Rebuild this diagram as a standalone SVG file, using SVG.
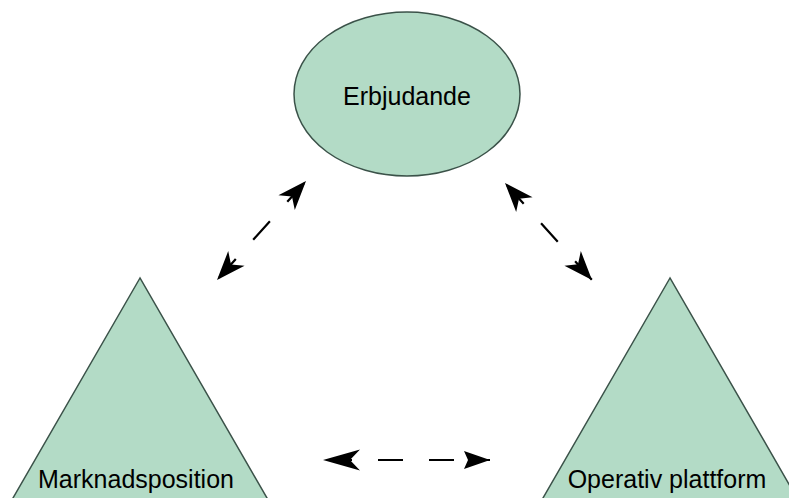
<svg xmlns="http://www.w3.org/2000/svg" width="789" height="498" viewBox="0 0 789 498">
  <style>
    .shape { fill: #b3dbc6; stroke: #3b5249; stroke-width: 1.5; }
    .label { font-family: "Liberation Sans", Arial, sans-serif; font-size: 25px; fill: #000; text-anchor: middle; }
    .link { fill: none; stroke: #000; stroke-width: 2.2; stroke-dasharray: 25 26; }
  </style>
  <defs>
    <!-- notched arrowhead, tip at the line end -->
    <marker id="ah" viewBox="-32 -13 34 26" refX="0" refY="0" markerWidth="34" markerHeight="26" markerUnits="userSpaceOnUse" orient="auto-start-reverse">
      <path d="M0,0 L-29,-11 L-21,0 L-29,11 Z" fill="#000"/>
    </marker>
    <marker id="ah-sm" viewBox="-30 -12 32 24" refX="0" refY="0" markerWidth="32" markerHeight="24" markerUnits="userSpaceOnUse" orient="auto-start-reverse">
      <path d="M0,0 L-26,-9 L-22,0 L-26,9 Z" fill="#000"/>
    </marker>
    <marker id="ah-lg" viewBox="-40 -12 42 24" refX="0" refY="0" markerWidth="42" markerHeight="24" markerUnits="userSpaceOnUse" orient="auto-start-reverse">
      <path d="M0,0 L-37,-10.5 L-27,0 L-37,10.5 Z" fill="#000"/>
    </marker>
  </defs>

  <g id="erbjudande">
    <ellipse class="shape" cx="407" cy="94" rx="113" ry="82"/>
    <text class="label" x="407" y="105">Erbjudande</text>
  </g>

  <g id="marknadsposition">
    <polygon class="shape" points="140,278 0.3,520 279.7,520"/>
    <text class="label" x="136" y="488">Marknadsposition</text>
  </g>

  <g id="operativ-plattform">
    <polygon class="shape" points="670,278 530.3,520 809.7,520"/>
    <text class="label" x="667" y="488">Operativ plattform</text>
  </g>

  <g id="connectors">
    <path class="link" d="M306,181 L217,280" stroke-dashoffset="48" marker-start="url(#ah)" marker-end="url(#ah)"/>
    <path class="link" d="M505,183 L592,280" stroke-dashoffset="48" marker-start="url(#ah)" marker-end="url(#ah)"/>
    <path class="link" d="M323,460 L490,460" stroke-dashoffset="47" marker-start="url(#ah-lg)" marker-end="url(#ah-sm)"/>
  </g>
</svg>
